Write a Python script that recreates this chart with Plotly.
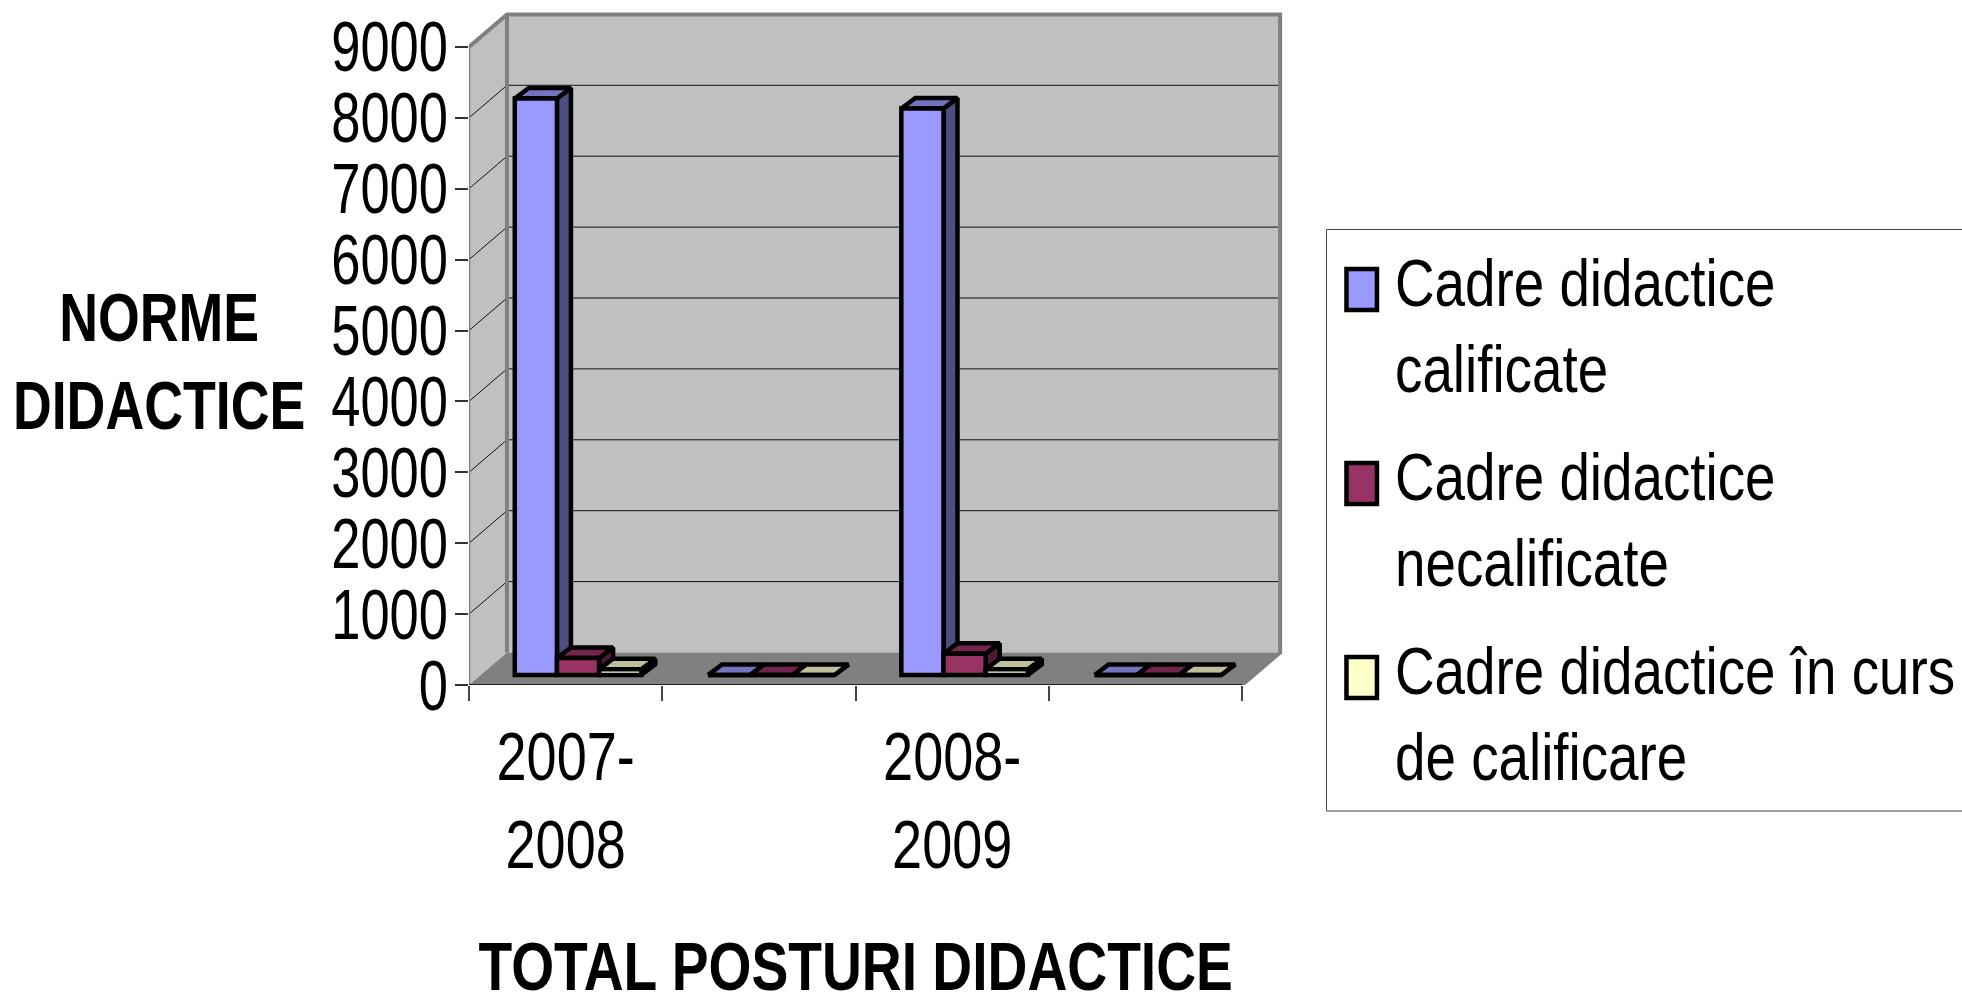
import plotly.graph_objects as go

# ---------- data ----------
categories = ["2007-2008", "", "2008-2009", ""]
cat_tick_labels = ["2007-<br>2008", "2008-<br>2009"]
series_names = ["Cadre didactice<br>calificate", "Cadre didactice<br>necalificate",
                "Cadre didactice în curs<br>de calificare"]
calificate = [8130, 0, 7990, 0]
necalificate = [240, 0, 300, 0]
in_curs = [80, 0, 80, 0]
y_ticks = [0, 1000, 2000, 3000, 4000, 5000, 6000, 7000, 8000, 9000]

front_colors = ["#9999FF", "#993366", "#FFFFCC"]
top_colors = ["#7373BF", "#73264D", "#BFBF99"]
side_colors = ["#4D4D80", "#4D1A33", "#808066"]

# ---------- page geometry (px on the page) ----------
W, H = 1962, 992
L, R, T, B = 468.5, 1284.0, 10.0, 685.0
CAT_PX = 193.4
VAL_PX = 70.9 / 1000
xmax = (R - L) / CAT_PX
ymax = (B - T) / VAL_PX
N = len(categories)

DX = 38 / CAT_PX          # wall depth, category units
DV = 32.5 / VAL_PX        # wall depth, value units
BAR_W = 42.2 / CAT_PX
BAR_SHIFT = 12.4 / CAT_PX
BAR_BASE = 10 / VAL_PX
BDX = 14 / CAT_PX
BDV = 10.6 / VAL_PX
STROKE = 4.5

fig = go.Figure()


def poly(xs, ys, fill, line="black", width=0):
    fig.add_trace(go.Scatter(
        x=xs, y=ys, mode="lines", fill="toself", fillcolor=fill,
        line=dict(color=line, width=width), hoverinfo="skip", showlegend=False,
        cliponaxis=False))


def lines(xs, ys, color, width):
    fig.add_trace(go.Scatter(
        x=xs, y=ys, mode="lines", line=dict(color=color, width=width),
        hoverinfo="skip", showlegend=False, cliponaxis=False))


top_v = y_ticks[-1]
# walls and floor
poly([0, DX, DX, 0, 0], [0, DV, top_v + DV, top_v, 0], "#C0C0C0")
poly([DX, N + DX, N + DX, DX, DX], [DV, DV, top_v + DV, top_v + DV, DV], "#C0C0C0")
poly([0, N, N + DX, DX, 0], [0, 0, DV, DV, 0], "#808080")

# gridlines
gx, gy = [], []
for v in y_ticks[1:-1]:
    gx += [0, DX, N + DX, None]
    gy += [v, v + DV, v + DV, None]
lines(gx, gy, "#111111", 1)

# wall edges
lines([0, DX, N + DX, N + DX, N], [top_v, top_v + DV, top_v + DV, DV, 0], "#808080", 4)
lines([DX, DX], [DV, top_v + DV], "#808080", 4)
lines([0, 0], [0, top_v], "#808080", 2.5)
lines([0, N], [0, 0], "#000000", 1.5)

# depth faces, from the values
all_series = [calificate, necalificate, in_curs]
for c in range(N):
    for s, vals in enumerate(all_series):
        xl = c + 0.5 + BAR_SHIFT + (s - 1.5) * BAR_W
        xr = xl + BAR_W
        v0, v1 = BAR_BASE, BAR_BASE + vals[c]
        poly([xr, xr + BDX, xr + BDX, xr, xr], [v0, v0 + BDV, v1 + BDV, v1, v0],
             side_colors[s], width=STROKE)
        poly([xl, xr, xr + BDX, xl + BDX, xl], [v1, v1, v1 + BDV, v1 + BDV, v1],
             top_colors[s], width=STROKE)

# front faces as real bars, on an overlay so they sit above the depth faces
for s, vals in enumerate(all_series):
    fig.add_trace(go.Bar(
        x=[c + 0.5 + BAR_SHIFT + (s - 1) * BAR_W for c in range(N)],
        y=vals, base=BAR_BASE, width=BAR_W, name=series_names[s].replace("<br>", " "),
        marker=dict(color=front_colors[s], line=dict(color="black", width=STROKE)),
        xaxis="x2", yaxis="y2", cliponaxis=False, showlegend=False))


def px(x):
    return (x - L) / (R - L)


def py(y):
    return (B - y) / (B - T)


FONT = "Liberation Sans, Arial, sans-serif"
annotations = [
    dict(x=px(158), y=py(361), text="<b>NORME<br>DIDACTICE</b>", font=dict(size=68, family=FONT)),
    dict(x=px(855), y=py(966), text="<b>TOTAL POSTURI DIDACTICE</b>", font=dict(size=68, family=FONT)),
]
shapes = [dict(type="rect", xref="paper", yref="paper", x0=px(1326.5), x1=px(2100),
               y0=py(811), y1=py(229.5), line=dict(color="#444444", width=1), fillcolor="white",
               layer="below")]
legend_tops = [269, 463, 657]
legend_mids = [326, 520, 714]
for i in range(3):
    shapes.append(dict(type="rect", xref="paper", yref="paper", x0=px(1346.5), x1=px(1377),
                       y0=py(legend_tops[i] + 41), y1=py(legend_tops[i]),
                       line=dict(color="black", width=STROKE), fillcolor=front_colors[i]))
    annotations.append(dict(x=px(1393), y=py(legend_mids[i]), xanchor="left", align="left",
                            text=series_names[i], font=dict(size=66, family=FONT)))
for a in annotations:
    a.update(xref="paper", yref="paper", showarrow=False)
    a.setdefault("xanchor", "center")
    a.setdefault("yanchor", "middle")
    a["font"]["color"] = "black"

fig.update_layout(
    width=W, height=H, autosize=False,
    margin=dict(l=L, r=W - R, t=T, b=H - B, pad=0, autoexpand=False),
    paper_bgcolor="white", plot_bgcolor="white",
    font=dict(family=FONT, color="black"),
    showlegend=False, barmode="overlay",
    annotations=annotations, shapes=shapes,
    xaxis=dict(range=[0, xmax], tickvals=list(range(N + 1)), ticktext=[""] * (N + 1),
               ticks="outside", ticklen=15, tickwidth=1.5, tickcolor="#444444",
               showgrid=False, zeroline=False, showline=False),
    yaxis=dict(range=[0, ymax], tickvals=y_ticks, ticks="outside", ticklen=13, tickwidth=1.5,
               tickcolor="#333333", showgrid=False, zeroline=False, showline=False,
               tickformat="d", tickfont=dict(size=70, family=FONT), ticklabelstandoff=-7),
    xaxis2=dict(range=[0, xmax], overlaying="x", anchor="y2", side="bottom",
                tickvals=[0.5, 2.5], ticktext=cat_tick_labels, ticks="outside", ticklen=12,
                tickcolor="rgba(0,0,0,0)", showgrid=False, zeroline=False, showline=False,
                tickfont=dict(size=68, family=FONT)),
    yaxis2=dict(range=[0, ymax], overlaying="y", anchor="x2", showticklabels=False, ticks="",
                showgrid=False, zeroline=False, showline=False),
)

# The reference uses a narrow face that is not installed: condense the real text horizontally.
narrow_js = """
document.body.style.margin = '0';
function squeeze(t, s) {
  var x = parseFloat(t.getAttribute('x')) || 0;
  var old = t.getAttribute('transform') || '';
  t.setAttribute('transform', old + ' translate(' + x + ',0) scale(' + s + ',1) translate(' + (-x) + ',0)');
}
document.querySelectorAll('.ytick text').forEach(function (t) { squeeze(t, 0.75); });
document.querySelectorAll('.xtick text, .x2tick text').forEach(function (t) { squeeze(t, 0.795); });
var title_scale = [0.79, 0.812];
document.querySelectorAll('text.annotation-text').forEach(function (t, i) { squeeze(t, i < 2 ? title_scale[i] : 0.83); });
"""

fig.write_html("out.html", post_script=narrow_js, config={"displayModeBar": False})
